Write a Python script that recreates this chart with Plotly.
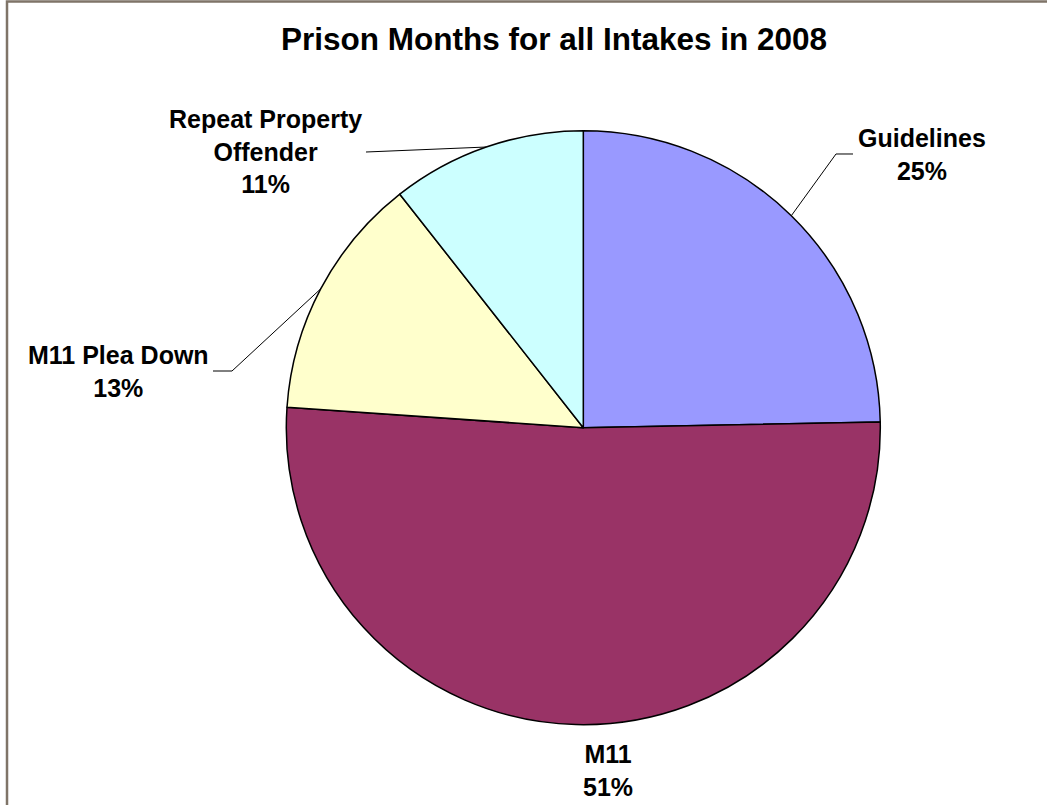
import math
import plotly.graph_objects as go

# ---------------- data ----------------
categories = ["Guidelines", "M11", "M11 Plea Down", "Repeat Property Offender"]
values = [24.7, 51.4, 13.3, 10.6]
label_text = ["Guidelines", "M11", "M11 Plea Down", "Repeat Property<br>Offender"]
title_text = "Prison Months for all Intakes in 2008"

# ---------------- style / layout ----------------
colors = ["#9999FF", "#993366", "#FFFFCC", "#CCFFFF"]
W, H = 1047, 805
CX, CY, R = 583.3, 427.7, 297.0          # pie centre / radius in pixels
FONT = "Liberation Sans, Arial, sans-serif"
BORDER = "#7F7468"

# label centres (pixels) and leader line bend points (pixels)
label_pos = [(921.5, 154), (607.5, 770), (118, 371), (265.5, 152)]
leader_pts = [[(836, 154), (853, 154)], None, [(232, 371), (213, 371)], [(366, 152)]]


def px(x):
    return x / W


def py(y):
    return 1 - y / H


total = sum(values)
pcts = [round(v / total * 100) for v in values]

fig = go.Figure(
    go.Pie(
        labels=categories,
        values=values,
        sort=False,
        direction="clockwise",
        rotation=0,
        marker=dict(colors=colors, line=dict(color="black", width=1.5)),
        textinfo="none",
        hoverinfo="label+percent",
        showlegend=False,
        domain=dict(x=[px(CX - R), px(CX + R)], y=[py(CY + R), py(CY - R)]),
    )
)

annotations = []
shapes = []

# title
annotations.append(dict(
    text="<b>" + title_text + "</b>", x=px(554), y=py(39), xref="paper", yref="paper",
    xanchor="center", yanchor="middle", showarrow=False,
    font=dict(family=FONT, size=31.5, color="black"),
))

cum = 0.0
for i, v in enumerate(values):
    theta = math.radians(360.0 * (cum + v / 2.0) / total)
    cum += v
    ex = CX + R * math.sin(theta)
    ey = CY - R * math.cos(theta)
    lx, ly = label_pos[i]
    annotations.append(dict(
        text="<b>" + label_text[i] + "<br>" + f"{pcts[i]}%" + "</b>",
        x=px(lx), y=py(ly), xref="paper", yref="paper",
        xanchor="center", yanchor="middle", showarrow=False, align="center",
        font=dict(family=FONT, size=25, color="black"),
    ))
    if leader_pts[i]:
        pts = [(ex, ey)] + leader_pts[i]
        path = "M " + " L ".join(f"{px(a):.5f},{py(b):.5f}" for a, b in pts)
        shapes.append(dict(type="path", path=path, xref="paper", yref="paper",
                           line=dict(color="black", width=1)))

# chart border (left and top edges visible)
shapes.append(dict(
    type="path",
    path=f"M {px(7):.5f},0 L {px(7):.5f},{py(1.5):.5f} L 1,{py(1.5):.5f}",
    xref="paper", yref="paper", line=dict(color=BORDER, width=2.5),
))

fig.update_layout(
    width=W, height=H,
    margin=dict(l=0, r=0, t=0, b=0),
    paper_bgcolor="white", plot_bgcolor="white",
    annotations=annotations, shapes=shapes,
    showlegend=False,
)

fig.write_html("out.html")
